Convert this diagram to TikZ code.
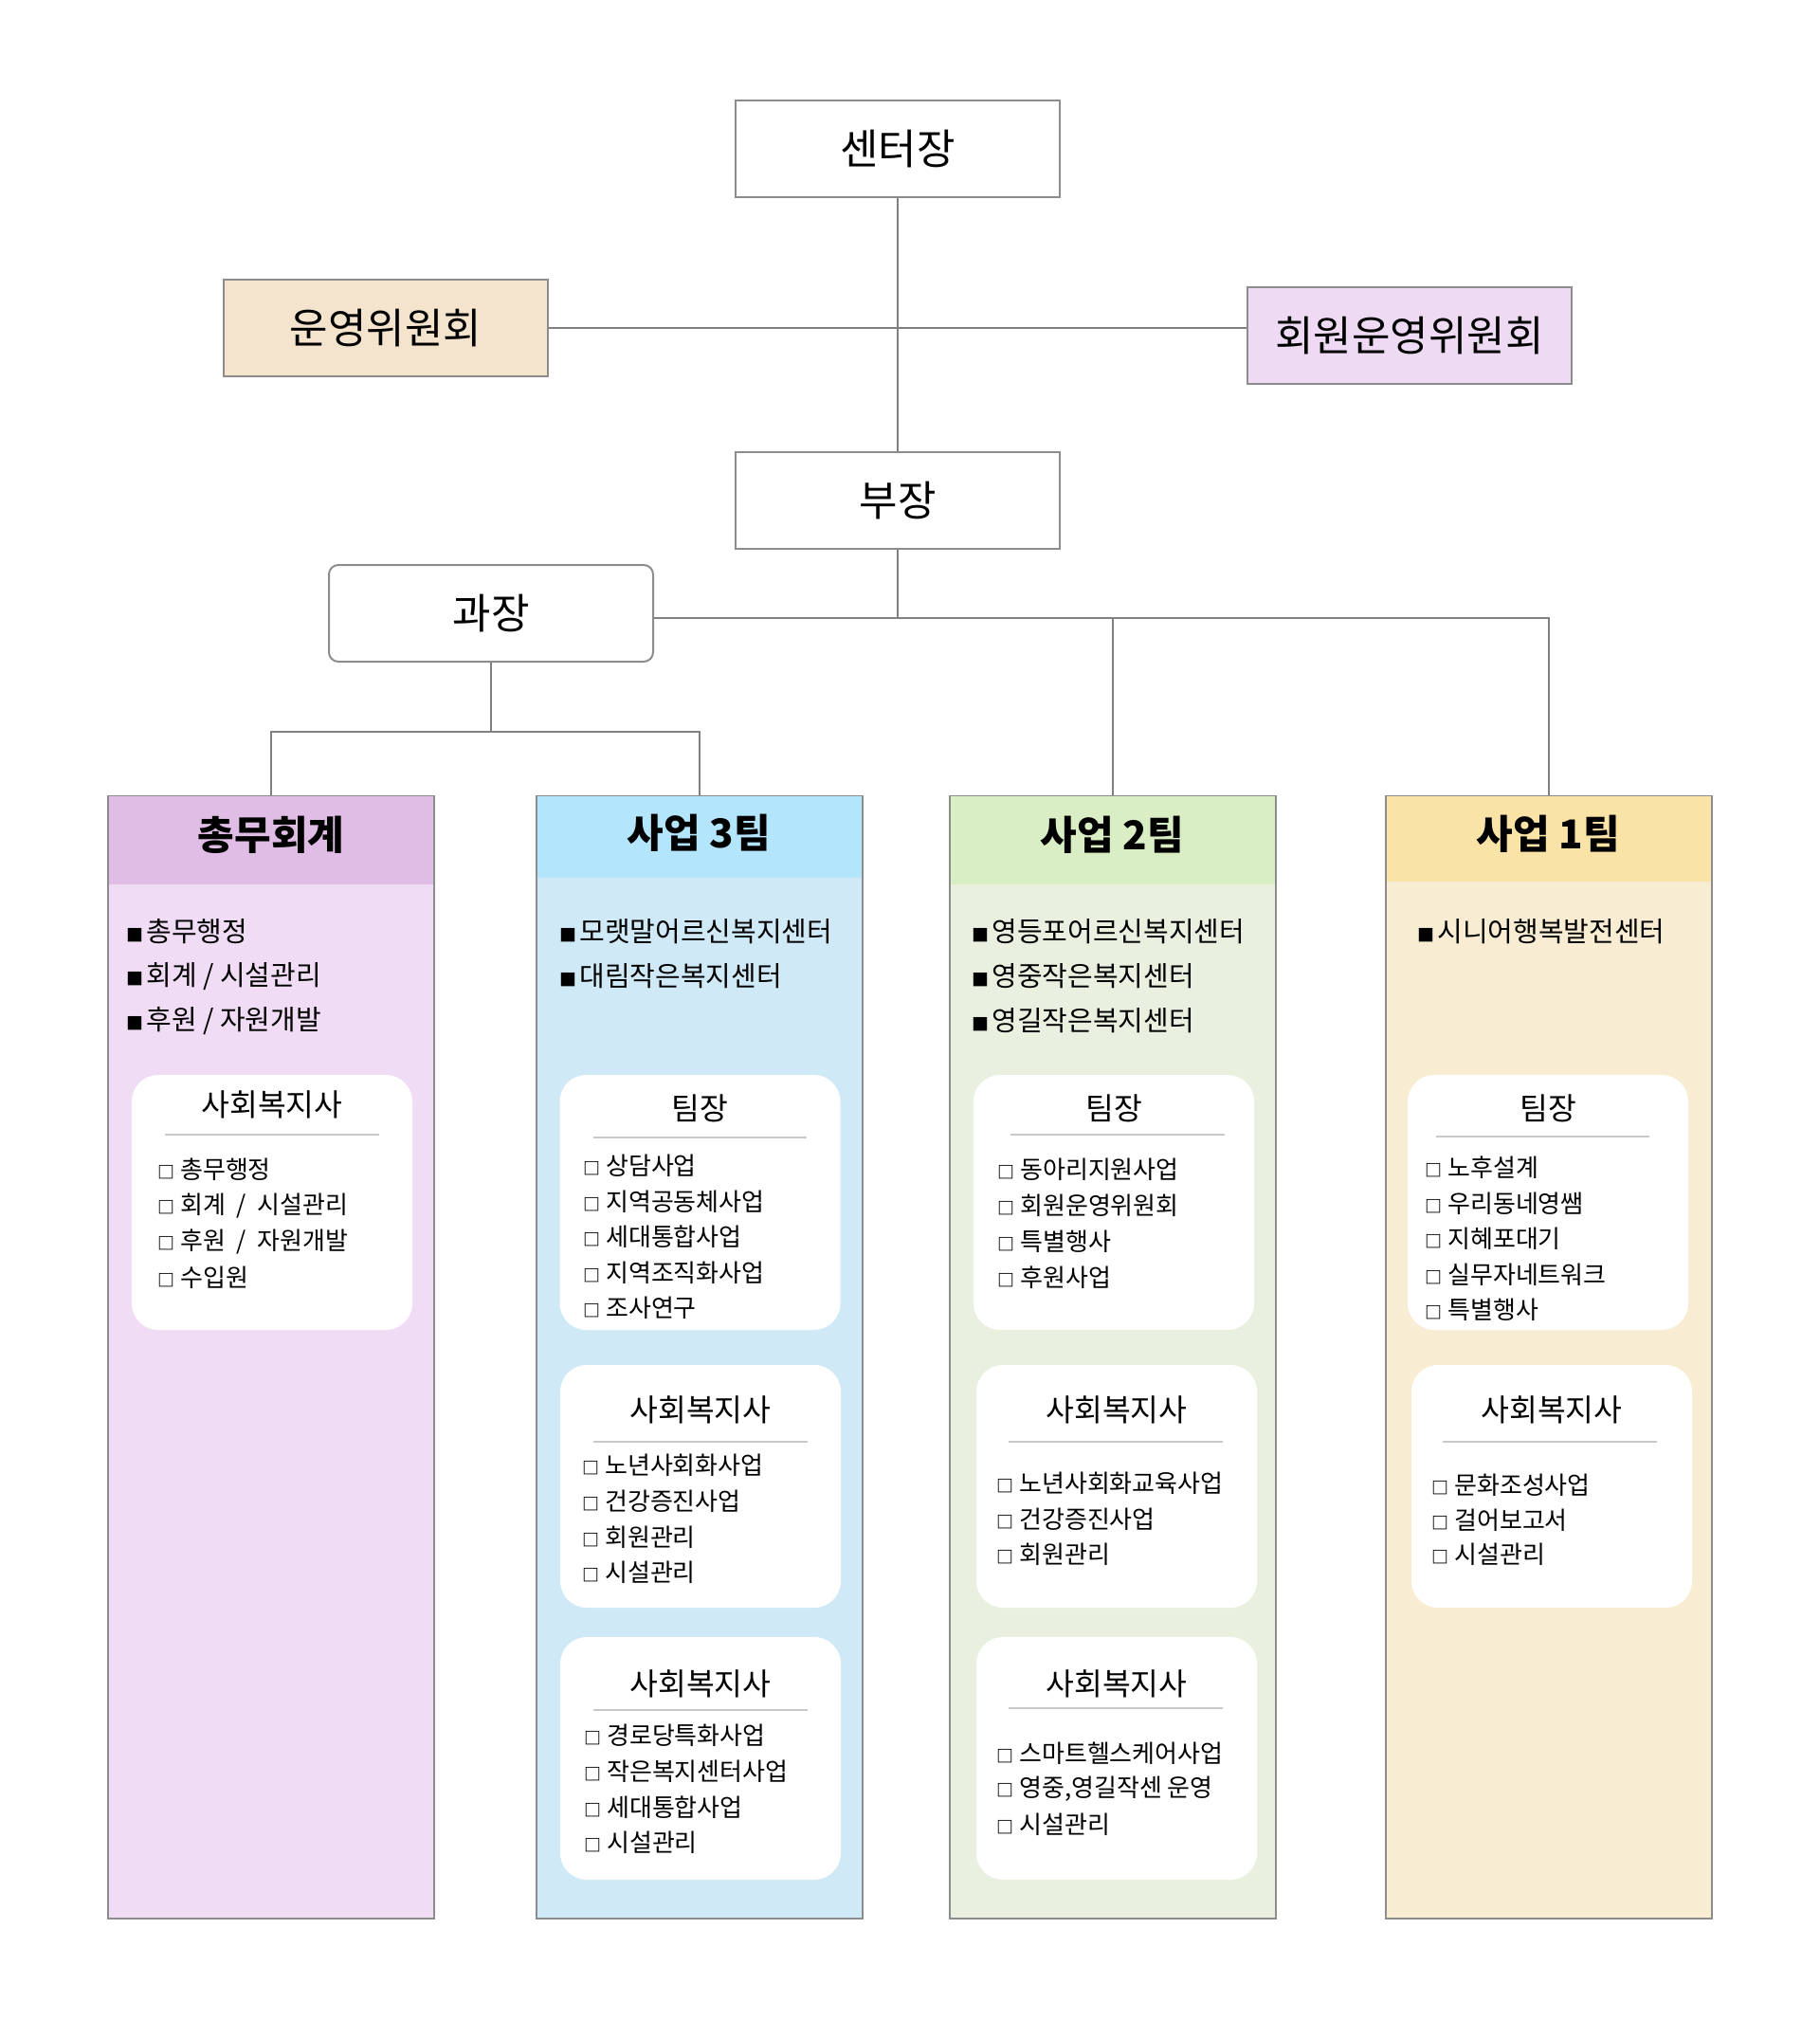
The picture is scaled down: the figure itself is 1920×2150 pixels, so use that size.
\documentclass[tikz,border=0pt]{standalone}
\usepackage{fontspec}
\setmainfont{Noto Sans CJK KR}
\usepackage{tikz}
\usetikzlibrary{positioning}
\usepackage{xcolor}
\definecolor{orgline}{RGB}{128,128,128}
\definecolor{orgborder}{RGB}{140,140,140}
\definecolor{orgrule}{RGB}{200,200,200}
\definecolor{opcfill}{RGB}{244,228,205}
\definecolor{mopcfill}{RGB}{238,219,243}
\definecolor{gahead}{RGB}{224,189,228}
\definecolor{gabody}{RGB}{240,220,244}
\definecolor{tthreehead}{RGB}{179,229,252}
\definecolor{tthreebody}{RGB}{207,233,247}
\definecolor{ttwohead}{RGB}{217,238,196}
\definecolor{ttwobody}{RGB}{233,240,224}
\definecolor{tonehead}{RGB}{250,227,167}
\definecolor{tonebody}{RGB}{248,237,211}
\tikzstyle{topbox} = [rectangle, minimum width=171pt, minimum height=51pt, text centered, draw=orgborder, line width=1pt, font=\fontsize{22pt}{26pt}\selectfont]
\tikzstyle{team} = [rectangle, anchor=north, minimum width=172pt, minimum height=592pt, draw=orgborder, line width=1pt]
\tikzstyle{teamhead} = [rectangle, anchor=north, minimum width=171pt, inner sep=0pt]
\tikzstyle{teamlabel} = [inner sep=0pt, font=\bfseries\fontsize{21pt}{24pt}\selectfont]
\tikzstyle{card} = [rectangle, rounded corners=14pt, minimum width=148pt, fill=white, inner sep=0pt]
\tikzstyle{cardtitle} = [inner sep=0pt, font=\fontsize{16.2pt}{19pt}\selectfont]
\tikzstyle{bul} = [anchor=west, inner sep=0pt, font=\fontsize{14.5pt}{17pt}\selectfont]
\tikzstyle{item} = [anchor=west, inner sep=0pt, font=\fontsize{13pt}{15pt}\selectfont]
\tikzstyle{sepline} = [draw=orgrule, line width=1.3pt]
\tikzstyle{link} = [draw=orgline, line width=1pt]
\newcommand{\fsq}{{\fontsize{9pt}{9pt}\selectfont ■}\hspace{1.5pt}}
\newcommand{\hsq}{{\bfseries\fontsize{9pt}{9pt}\selectfont □}}

\begin{document}
\begin{tikzpicture}[x=0.5pt, y=-0.5pt]
\useasboundingbox (0,0) rectangle (1920,2150);
% Top nodes
\node (ceo) [topbox] at (947,157) {센터장};
\node (opc) [topbox, fill=opcfill] at (407,346.5) {운영위원회};
\node (mopc) [topbox, fill=mopcfill] at (1487,354) {회원운영위원회};
\node (dept) [topbox] at (947,528) {부장};
\node (mgr) [topbox, rounded corners=5pt] at (518,647) {과장};

% Team columns
\node (ga) [team, fill=gabody] at (286,839) {};
\node (gah) [teamhead, fill=gahead, minimum height=46.5pt] at ([yshift=-0.5pt]ga.north) {};
\node (gahl) [teamlabel] at (286,881) {총무회계};
\node (tthree) [team, fill=tthreebody] at (737.5,839) {};
\node (tthreeh) [teamhead, fill=tthreehead, minimum height=43pt] at ([yshift=-0.5pt]tthree.north) {};
\node (tthreehl) [teamlabel] at (737.5,879) {사업 3팀};
\node (ttwo) [team, fill=ttwobody] at (1173.5,839) {};
\node (ttwoh) [teamhead, fill=ttwohead, minimum height=46.5pt] at ([yshift=-0.5pt]ttwo.north) {};
\node (ttwohl) [teamlabel] at (1173.5,881) {사업 2팀};
\node (tone) [team, fill=tonebody] at (1633.5,839) {};
\node (toneh) [teamhead, fill=tonehead, minimum height=45pt] at ([yshift=-0.5pt]tone.north) {};
\node (tonehl) [teamlabel] at (1633.5,880) {사업 1팀};

% Centre lists
\foreach \lbl [count=\i from 0] in {총무행정, 회계 / 시설관리, 후원 / 자원개발}
  \node (gab\i) [bul] at (133,983+47*\i) {\fsq\lbl};
\foreach \lbl [count=\i from 0] in {모랫말어르신복지센터, 대림작은복지센터}
  \node (tthreeb\i) [bul] at (590,983+47*\i) {\fsq\lbl};
\foreach \lbl [count=\i from 0] in {영등포어르신복지센터, 영중작은복지센터, 영길작은복지센터}
  \node (ttwob\i) [bul] at (1025,983+47*\i) {\fsq\lbl};
\node (toneb0) [bul] at (1495,983) {\fsq 시니어행복발전센터};

% Staff cards, first row
\node (gac) [card, minimum height=134.5pt] at (287,1268.5) {};
\node (gact) [cardtitle] at (287,1165) {사회복지사};
\draw[sepline] (174,1197) -- (400,1197);
\foreach \lbl [count=\i from 0] in {총무행정, 회계 \ / \ 시설관리, 후원 \ / \ 자원개발, 수입원}
  \node (gai\i) [item] at (166,1234+38*\i) {\hsq\ \lbl};

\node (tthreec) [card, minimum height=134.5pt] at (738.5,1268.5) {};
\node (tthreect) [cardtitle] at (738.5,1169) {팀장};
\draw[sepline] (626,1200) -- (851,1200);
\foreach \lbl [count=\i from 0] in {상담사업, 지역공동체사업, 세대통합사업, 지역조직화사업, 조사연구}
  \node (tthreei\i) [item] at (615,1230+37.5*\i) {\hsq\ \lbl};

\node (ttwoc) [card, minimum height=134.5pt] at (1175,1268.5) {};
\node (ttwoct) [cardtitle] at (1175,1169) {팀장};
\draw[sepline] (1066,1197) -- (1292,1197);
\foreach \lbl [count=\i from 0] in {동아리지원사업, 회원운영위원회, 특별행사, 후원사업}
  \node (ttwoi\i) [item] at (1052,1234+38*\i) {\hsq\ \lbl};

\node (tonec) [card, minimum height=134.5pt] at (1633,1268.5) {};
\node (tonect) [cardtitle] at (1633,1169) {팀장};
\draw[sepline] (1515,1199) -- (1740,1199);
\foreach \lbl [count=\i from 0] in {노후설계, 우리동네영쌤, 지혜포대기, 실무자네트워크, 특별행사}
  \node (tonei\i) [item] at (1503,1232+37.5*\i) {\hsq\ \lbl};

% Staff cards, second row
\node (tthreed) [card, minimum height=128pt] at (739,1568) {};
\node (tthreedt) [cardtitle] at (739,1487) {사회복지사};
\draw[sepline] (626,1521) -- (852,1521);
\foreach \lbl [count=\i from 0] in {노년사회화사업, 건강증진사업, 회원관리, 시설관리}
  \node (tthreej\i) [item] at (614,1546+37.7*\i) {\hsq\ \lbl};

\node (ttwod) [card, minimum height=128pt] at (1178,1568) {};
\node (ttwodt) [cardtitle] at (1178,1487) {사회복지사};
\draw[sepline] (1064,1521) -- (1290,1521);
\foreach \lbl [count=\i from 0] in {노년사회화교육사업, 건강증진사업, 회원관리}
  \node (ttwoj\i) [item] at (1051,1565+37.5*\i) {\hsq\ \lbl};

\node (toned) [card, minimum height=128pt] at (1637,1568) {};
\node (tonedt) [cardtitle] at (1637,1487) {사회복지사};
\draw[sepline] (1522,1521) -- (1748,1521);
\foreach \lbl [count=\i from 0] in {문화조성사업, 걸어보고서, 시설관리}
  \node (tonej\i) [item] at (1510,1567+36.5*\i) {\hsq\ \lbl};

% Staff cards, third row
\node (tthreee) [card, minimum height=128pt] at (739,1855) {};
\node (tthreeet) [cardtitle] at (739,1776) {사회복지사};
\draw[sepline] (626,1804) -- (852,1804);
\foreach \lbl [count=\i from 0] in {경로당특화사업, 작은복지센터사업, 세대통합사업, 시설관리}
  \node (tthreek\i) [item] at (616,1831+37.7*\i) {\hsq\ \lbl};

\node (ttwoe) [card, minimum height=128pt] at (1178,1855) {};
\node (ttwoet) [cardtitle] at (1178,1776) {사회복지사};
\draw[sepline] (1064,1802) -- (1290,1802);
\foreach \lbl [count=\i from 0] in {스마트헬스케어사업, {영중,영길작센 운영}, 시설관리}
  \node (ttwok\i) [item] at (1051,1850+37.5*\i) {\hsq\ \lbl};

% Connectors
\draw[link] (ceo) -- (dept);
\draw[link] (opc) -- (opc -| mopc.west);
\path (dept.south) ++(0,72) coordinate (hub);
\draw[link] (dept) -- (hub);
\draw[link] (hub -| mgr.east) -- (hub -| tone.north) -- (tone.north);
\draw[link] (hub -| ttwo.north) -- (ttwo.north);
\path (mgr.south) ++(0,73) coordinate (split);
\draw[link] (mgr) -- (split);
\draw[link] (ga.north) |- (split) -| (tthree.north);
\end{tikzpicture}
\end{document}
